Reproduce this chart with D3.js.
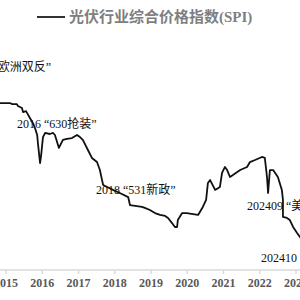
<!DOCTYPE html>
<html>
<head>
<meta charset="utf-8">
<script src="https://d3js.org/d3.v7.min.js"></script>
<style>
  html, body { margin: 0; padding: 0; background: #fff; }
  svg { display: block; }
</style>
</head>
<body>
<script>
// SPI (decimal year, index)
const dates = [2014.83, 2015.11, 2015.17, 2015.30, 2015.33, 2015.44, 2015.47, 2015.55, 2015.58, 2015.66,
  2015.74, 2015.80, 2015.86, 2015.88, 2015.94, 2015.97, 2016.02, 2016.08, 2016.21, 2016.30,
  2016.35, 2016.46, 2016.57, 2016.68, 2016.82, 2016.96, 2017.04, 2017.12, 2017.26, 2017.37,
  2017.51, 2017.59, 2017.65, 2017.68, 2017.79, 2017.95, 2018.14, 2018.37, 2018.42, 2018.61,
  2018.75, 2018.83, 2018.97, 2019.11, 2019.25, 2019.39, 2019.47, 2019.58, 2019.66, 2019.72,
  2019.74, 2019.86, 2019.99, 2020.16, 2020.30, 2020.43, 2020.52, 2020.57, 2020.63, 2020.77,
  2020.90, 2020.96, 2021.04, 2021.10, 2021.18, 2021.26, 2021.46, 2021.65, 2021.73, 2021.87,
  2022.06, 2022.14, 2022.20, 2022.23, 2022.28, 2022.37, 2022.50, 2022.61, 2022.64, 2022.64,
  2022.75, 2022.83, 2022.92, 2023.03, 2023.11, 2023.28];
const spi = [98.2, 98.2, 97.6, 97.6, 96.5, 95.3, 92.9, 93.5, 92.4, 89.4,
  86.5, 83.5, 79.4, 74.7, 62.9, 67.6, 78.2, 80.6, 80.0, 80.6,
  79.4, 71.8, 76.5, 77.1, 77.6, 79.4, 78.2, 76.5, 70.6, 65.9,
  63.5, 58.8, 52.9, 50.0, 48.8, 47.1, 45.3, 42.9, 38.2, 37.6,
  37.1, 36.5, 35.3, 33.5, 32.4, 31.8, 30.6, 27.6, 25.3, 25.3,
  29.4, 33.5, 33.5, 32.9, 32.4, 37.1, 41.2, 51.2, 52.9, 47.1,
  48.8, 57.1, 60.6, 58.8, 54.7, 55.9, 58.8, 60.6, 63.5, 64.7,
  66.5, 65.9, 54.7, 45.3, 58.8, 58.8, 54.7, 47.1, 41.2, 31.2,
  30.6, 29.4, 25.3, 21.8, 19.4, 15.9];
const years = [2015, 2016, 2017, 2018, 2019, 2020, 2021, 2022, 2023];
const legendLabel = "光伏行业综合价格指数(SPI)";
const notes = ["“欧洲双反”", "2016 “630抢装”", "2018 “531新政”", "202409 “美”", "202410"];

const W = 300, H = 300;
const serif = "'Liberation Serif', 'Noto Sans CJK SC', serif";

const svg = d3.select("body").append("svg").attr("width", W).attr("height", H);

const x = d3.scaleLinear().domain([2015, 2023]).range([6, 296]);
const y = d3.scaleLinear().domain([0, 100]).range([270, 100]);

// axis
const ax = svg.append("g").attr("transform", "translate(0,270)");
ax.append("line").attr("x1", 0).attr("x2", W).attr("stroke", "#d9d9d9").attr("stroke-width", 1.5);
ax.selectAll("line.tk").data(years).join("line").attr("class", "tk")
  .attr("x1", d => x(d)).attr("x2", d => x(d)).attr("y1", 0).attr("y2", 4)
  .attr("stroke", "#d9d9d9").attr("stroke-width", 1.5);
ax.selectAll("text").data(years).join("text")
  .attr("x", d => x(d)).attr("y", 17).attr("text-anchor", "middle")
  .attr("font-family", serif).attr("font-size", 12).attr("font-weight", "bold")
  .attr("fill", "#595959").text(d => d);

// line
const pts = dates.map((d, i) => [d, spi[i]]);
svg.append("path").datum(pts)
  .attr("d", d3.line().x(d => x(d[0])).y(d => y(d[1])))
  .attr("fill", "none").attr("stroke", "#111").attr("stroke-width", 1.8)
  .attr("stroke-linejoin", "round");

// legend
svg.append("line").attr("x1", 37).attr("x2", 65).attr("y1", 17).attr("y2", 17)
  .attr("stroke", "#1a1a1a").attr("stroke-width", 1.8);
svg.append("text").attr("x", 69).attr("y", 22)
  .attr("font-family", serif).attr("font-size", 15).attr("font-weight", "bold")
  .attr("fill", "#7f7f7f").text(legendLabel);

// annotations
const notePos = [[51, 71, "end"], [17, 128, "start"], [96, 194, "start"], [247, 210, "start"], [261, 262, "start"]];
svg.selectAll("text.note").data(notes).join("text").attr("class", "note")
  .attr("x", (d, i) => notePos[i][0]).attr("y", (d, i) => notePos[i][1])
  .attr("text-anchor", (d, i) => notePos[i][2])
  .attr("font-family", serif).attr("font-size", 12)
  .attr("fill", "#111").text(d => d);
</script>
</body>
</html>
